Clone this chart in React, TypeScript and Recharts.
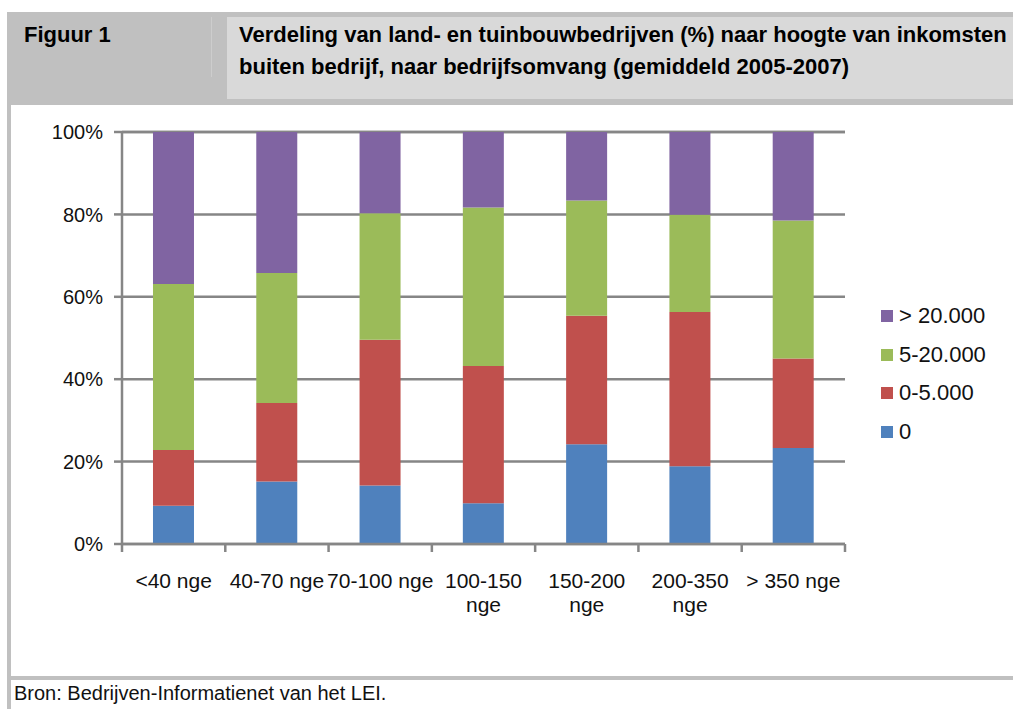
import React from "react";
import {
  BarChart,
  Bar,
  XAxis,
  YAxis,
  CartesianGrid,
  Legend,
} from "recharts";

// share of farms (%) per income class
const categories = [
  "<40 nge",
  "40-70 nge",
  "70-100 nge",
  "100-150 nge",
  "150-200 nge",
  "200-350 nge",
  "> 350 nge",
];
const zero = [9.3, 15.2, 14.2, 9.9, 24.2, 18.9, 23.3];
const upTo5k = [13.5, 19.0, 35.4, 33.3, 31.2, 37.4, 21.7];
const from5kTo20k = [40.3, 31.6, 30.7, 38.5, 28.0, 23.6, 33.5];
const over20k = [36.9, 34.2, 19.7, 18.3, 16.6, 20.1, 21.5];

const seriesNames = ["0", "0-5.000", "5-20.000", "> 20.000"];
const seriesColors = ["#4f81bd", "#c0504d", "#9bbb59", "#8064a2"];
const yTicks = [0, 20, 40, 60, 80, 100];
const boundaryTicks = [0, 1, 2, 3, 4, 5, 6, 7];

const data = categories.map((cat, i) => ({
  cat,
  pos: i + 0.5,
  s0: zero[i],
  s1: upTo5k[i],
  s2: from5kTo20k[i],
  s3: over20k[i],
}));

const FONT = "'Liberation Sans', Arial, sans-serif";
const AXIS = "#868686";

const CategoryTick = (props: any) => {
  const { x, y, payload } = props;
  const label: string = payload.value;
  // long labels wrap onto a second line, like in the original
  let lines = [label];
  if (label.length > 10) {
    const cut = label.lastIndexOf(" ");
    lines = [label.slice(0, cut), label.slice(cut + 1)];
  }
  return (
    <text
      x={x}
      y={y + 43}
      textAnchor="middle"
      fill="#111"
      fontSize={21}
      fontFamily={FONT}
    >
      {lines.map((l, i) => (
        <tspan key={i} x={x} dy={i === 0 ? 0 : 23.5}>
          {l}
        </tspan>
      ))}
    </text>
  );
};

const EmptyTick = () => <g />;

const LegendBox = () => {
  const items = seriesNames.map((n, i) => ({ n, c: seriesColors[i] })).reverse();
  return (
    <div style={{ fontFamily: FONT, fontSize: 22, color: "#111" }}>
      {items.map((it) => (
        <div
          key={it.n}
          style={{ height: 38.5, display: "flex", alignItems: "center" }}
        >
          <span
            style={{
              width: 12,
              height: 12,
              background: it.c,
              display: "inline-block",
              marginRight: 6,
            }}
          />
          <span>{it.n}</span>
        </div>
      ))}
    </div>
  );
};

export default function App() {
  return (
    <div
      style={{
        position: "fixed",
        left: 0,
        top: 0,
        width: 1013,
        height: 709,
        background: "#fff",
        overflow: "hidden",
        fontFamily: FONT,
      }}
    >
      {/* header band */}
      <div
        style={{
          position: "absolute",
          left: 7,
          top: 12,
          width: 1006,
          height: 93,
          background: "#c0c0c0",
        }}
      />
      <div
        style={{
          position: "absolute",
          left: 211,
          top: 17,
          width: 1,
          height: 60,
          background: "#cdcdcd",
        }}
      />
      <div
        style={{
          position: "absolute",
          left: 227,
          top: 17,
          width: 786,
          height: 82,
          background: "#d9d9d9",
        }}
      />
      <div
        style={{
          position: "absolute",
          left: 24,
          top: 19,
          fontSize: 22,
          fontWeight: "bold",
          lineHeight: "32px",
          color: "#000",
        }}
      >
        Figuur 1
      </div>
      <div
        style={{
          position: "absolute",
          left: 239,
          top: 19,
          fontSize: 22,
          fontWeight: "bold",
          lineHeight: "32px",
          color: "#000",
          whiteSpace: "nowrap",
        }}
      >
        Verdeling van land- en tuinbouwbedrijven (%) naar hoogte van inkomsten
        <br />
        buiten bedrijf, naar bedrijfsomvang (gemiddeld 2005-2007)
      </div>
      {/* frame */}
      <div
        style={{
          position: "absolute",
          left: 7,
          top: 12,
          width: 4,
          height: 697,
          background: "#c0c0c0",
        }}
      />
      <div
        style={{
          position: "absolute",
          left: 7,
          top: 676,
          width: 1006,
          height: 4,
          background: "#c0c0c0",
        }}
      />
      <div
        style={{
          position: "absolute",
          left: 14,
          top: 683,
          fontSize: 20,
          lineHeight: "20px",
          color: "#111",
          whiteSpace: "nowrap",
        }}
      >
        Bron: Bedrijven-Informatienet van het LEI.
      </div>

      <div style={{ position: "absolute", left: 0, top: 0 }}>
        <BarChart
          width={1013}
          height={709}
          data={data}
          margin={{ top: 132, right: 168, bottom: 104, left: 62 }}
          barCategoryGap="30%"
        >
          <CartesianGrid
            vertical={false}
            stroke={AXIS}
            strokeWidth={2.5}
          />
          {/* tick marks sit between the categories, as in Excel */}
          <XAxis
            xAxisId="axisA"
            type="number"
            dataKey="pos"
            domain={[0, 7]}
            ticks={boundaryTicks}
            interval={0}
            allowDataOverflow
            height={1}
            tick={<EmptyTick />}
            tickSize={8}
            axisLine={{ stroke: AXIS, strokeWidth: 2.5 }}
            tickLine={{ stroke: AXIS, strokeWidth: 2.5 }}
          />
          <XAxis
            xAxisId="axisB"
            dataKey="cat"
            height={60}
            interval={0}
            axisLine={false}
            tickLine={false}
            tickSize={0}
            tickMargin={0}
            tick={<CategoryTick />}
          />
          <YAxis
            width={60}
            domain={[0, 100]}
            ticks={yTicks}
            interval={0}
            tickFormatter={(v: number) => `${v}%`}
            tickSize={8}
            tickMargin={11}
            axisLine={{ stroke: AXIS, strokeWidth: 2.5 }}
            tickLine={{ stroke: AXIS, strokeWidth: 2.5 }}
            tick={{ fill: "#111", fontSize: 20, fontFamily: FONT }}
          />
          <Legend
            layout="horizontal"
            verticalAlign="middle"
            align="center"
            wrapperStyle={{ left: 881, top: 297, width: 130 }}
            content={<LegendBox />}
          />
          {["s0", "s1", "s2", "s3"].map((k, i) => (
            <Bar
              key={k}
              xAxisId="axisB"
              dataKey={k}
              name={seriesNames[i]}
              stackId="a"
              fill={seriesColors[i]}
              isAnimationActive={false}
            />
          ))}
        </BarChart>
      </div>
    </div>
  );
}
